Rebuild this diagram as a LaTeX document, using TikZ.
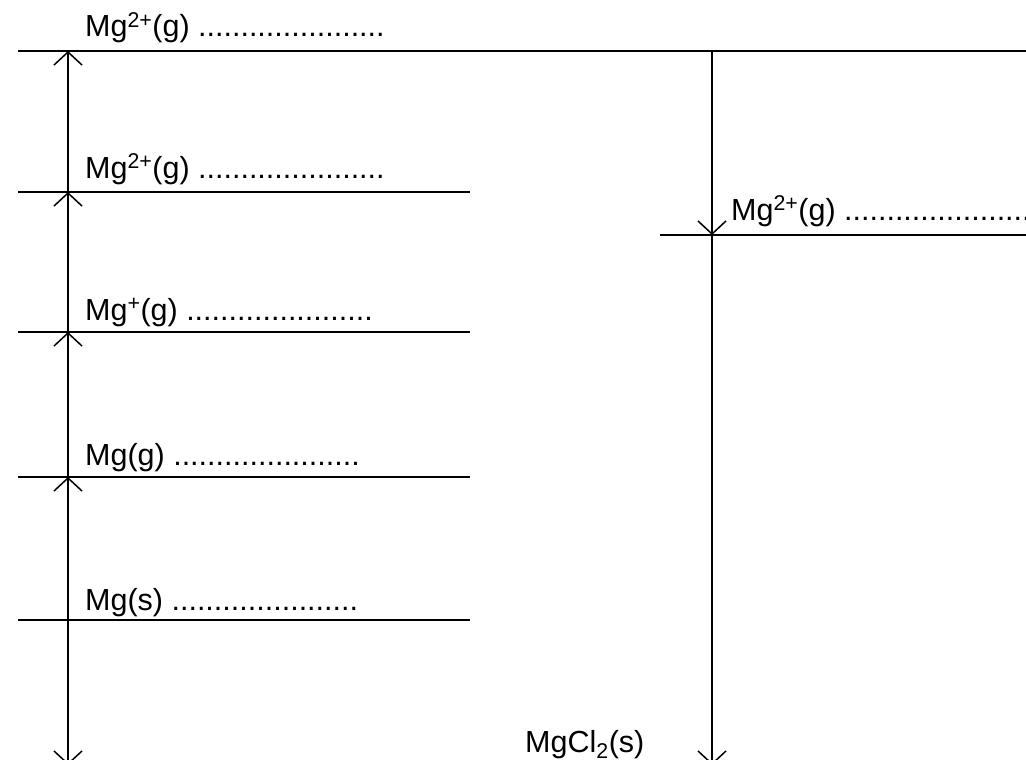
\documentclass[tikz,border=0pt]{standalone}
\usepackage{fontspec}
\setmainfont{Liberation Sans}
\usepackage{tikz}
\usetikzlibrary{arrows.meta}

\begin{document}
\begin{tikzpicture}[
    x=1pt, y=-1pt,
    level/.style={line width=1.9pt},
    jump/.style={line width=1.5pt,
      -{Straight Barb[length=13pt,width=28pt]}},
    species/.style={anchor=base west, inner sep=0pt,
      font=\fontsize{30.5}{36}\selectfont}
  ]
    \useasboundingbox (0,0) rectangle (1026,760);
    \clip (0,0) rectangle (1026,760);

    % energy levels
    \coordinate (topL) at (18,51);   \coordinate (topR) at (1030,51);
    \coordinate (ionbL) at (18,192); \coordinate (ionbR) at (470,192);
    \coordinate (ionaL) at (18,332); \coordinate (ionaR) at (470,332);
    \coordinate (gasL) at (18,477);  \coordinate (gasR) at (470,477);
    \coordinate (solL) at (18,620);  \coordinate (solR) at (470,620);
    \coordinate (hydL) at (660,235); \coordinate (hydR) at (1030,235);

    \draw[level] (topL) -- (topR);
    \draw[level] (ionbL) -- (ionbR);
    \draw[level] (ionaL) -- (ionaR);
    \draw[level] (gasL) -- (gasR);
    \draw[level] (solL) -- (solR);
    \draw[level] (hydL) -- (hydR);

    \node[species] (top) at (85,37) {Mg\textsuperscript{2+}(g) ......................};
    \node[species] (ionb) at (85,178) {Mg\textsuperscript{2+}(g) ......................};
    \node[species] (iona) at (85,320) {Mg\textsuperscript{+}(g) ......................};
    \node[species] (gas) at (85,465) {Mg(g) ......................};
    \node[species] (sol) at (85,610) {Mg(s) ......................};
    \node[species] (hyd) at (731,220) {Mg\textsuperscript{2+}(g) ......................};
    \node[species] (salt) at (525,752) {MgCl\textsubscript{2}(s)};

    % steps, left column
    \coordinate (a0) at (68,765);
    \coordinate (a1) at (68,620);
    \coordinate (a2) at (68,477);
    \coordinate (a3) at (68,332);
    \coordinate (a4) at (68,192);
    \coordinate (a5) at (68,51);
    \draw[jump] (a1) -- (a0);
    \draw[jump] (a1) -- (a2);
    \draw[jump] (a2) -- (a3);
    \draw[jump] (a3) -- (a4);
    \draw[jump] (a4) -- (a5);

    % steps, right column
    \coordinate (b0) at (712,51);
    \coordinate (b1) at (712,235);
    \coordinate (b2) at (712,765);
    \draw[jump] (b0) -- (b1);
    \draw[jump] (b1) -- (b2);
  \end{tikzpicture}
\end{document}
